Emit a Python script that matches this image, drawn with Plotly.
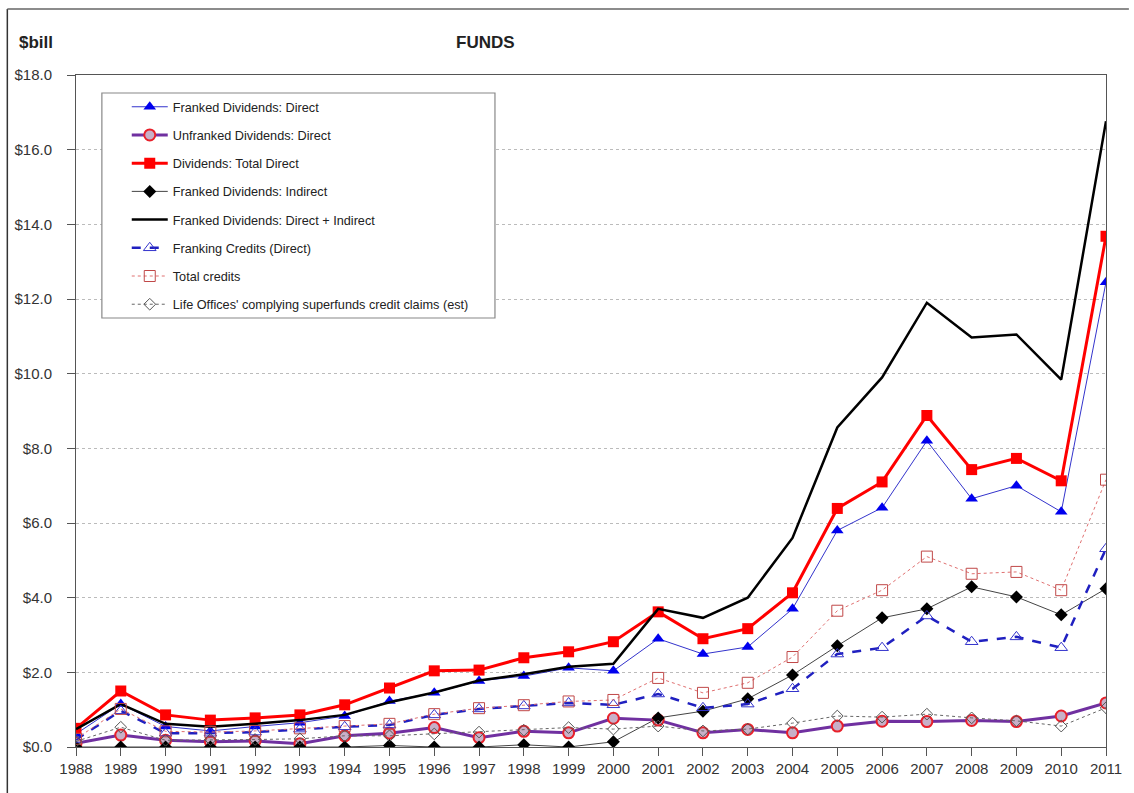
import plotly.graph_objects as go

years = list(range(1988, 2012))

franked_direct = [0.35, 1.15, 0.55, 0.43, 0.55, 0.65, 0.83, 1.23, 1.45, 1.77, 1.9, 2.12, 2.04,
                  2.9, 2.49, 2.68, 3.7, 5.8, 6.41, 8.2, 6.65, 7.0, 6.3, 12.45]
unfranked_direct = [0.1, 0.32, 0.18, 0.14, 0.16, 0.09, 0.3, 0.37, 0.52, 0.25, 0.42, 0.38, 0.77,
                    0.72, 0.38, 0.47, 0.38, 0.56, 0.69, 0.68, 0.71, 0.68, 0.83, 1.18]
total_direct = [0.5, 1.5, 0.86, 0.72, 0.78, 0.86, 1.13, 1.58, 2.04, 2.06, 2.39, 2.55, 2.82,
                3.62, 2.9, 3.17, 4.13, 6.39, 7.1, 8.88, 7.43, 7.73, 7.13, 13.68]
franked_indirect = [0.0, 0.0, 0.0, 0.0, 0.0, 0.0, 0.0, 0.04, 0.0, 0.0, 0.06, 0.0, 0.14,
                    0.78, 0.96, 1.29, 1.93, 2.71, 3.46, 3.7, 4.29, 4.02, 3.54, 4.24]
franked_total = [0.48, 1.15, 0.62, 0.54, 0.62, 0.72, 0.86, 1.2, 1.46, 1.78, 1.95, 2.15, 2.23,
                 3.7, 3.46, 4.0, 5.6, 8.56, 9.9, 11.9, 10.97, 11.05, 9.84, 16.76]
franking_credits = [0.2, 0.97, 0.37, 0.37, 0.4, 0.48, 0.54, 0.59, 0.86, 1.02, 1.1, 1.18, 1.13,
                    1.42, 1.05, 1.15, 1.56, 2.49, 2.66, 3.51, 2.82, 2.95, 2.66, 5.31]
total_credits = [0.22, 1.02, 0.42, 0.4, 0.43, 0.5, 0.56, 0.62, 0.88, 1.04, 1.12, 1.22, 1.26,
                 1.85, 1.45, 1.72, 2.41, 3.65, 4.2, 5.1, 4.64, 4.69, 4.2, 7.16]
life_offices = [0.15, 0.53, 0.18, 0.2, 0.2, 0.22, 0.3, 0.3, 0.35, 0.4, 0.45, 0.52, 0.48,
                0.56, 0.43, 0.48, 0.64, 0.83, 0.8, 0.88, 0.78, 0.7, 0.56, 1.05]

names = [
    "Franked Dividends: Direct",
    "Unfranked Dividends: Direct",
    "Dividends: Total Direct",
    "Franked Dividends: Indirect",
    "Franked Dividends: Direct + Indirect",
    "Franking Credits (Direct)",
    "Total credits",
    "Life Offices' complying superfunds credit claims (est)",
]

FONT = "Liberation Sans, Arial, sans-serif"

fig = go.Figure()

styles = [
    (franked_direct, dict(color="#3333cc", width=1), dict(symbol="triangle-up", size=11, color="#0000ee", line=dict(width=0))),
    (unfranked_direct, dict(color="#7030a0", width=3), dict(symbol="circle", size=11, color="#c8b0c8", line=dict(color="#e8202a", width=2))),
    (total_direct, dict(color="#ff0000", width=3), dict(symbol="square", size=11, color="#ff0000", line=dict(width=0))),
    (franked_indirect, dict(color="#444444", width=1), dict(symbol="diamond", size=10, color="#000000", line=dict(width=0))),
    (franked_total, dict(color="#000000", width=2.5), None),
    (franking_credits, dict(color="#2020c0", width=2.5, dash="dash"), dict(symbol="triangle-up-open", size=11, color="#3333cc", line=dict(width=1))),
    (total_credits, dict(color="#e07070", width=1, dash="dot"), dict(symbol="square-open", size=11, color="#c04848", line=dict(width=1))),
    (life_offices, dict(color="#666666", width=1, dash="dot"), dict(symbol="diamond-open", size=9, color="#555555", line=dict(width=1))),
]

for i, (vals, line, marker) in enumerate(styles):
    fig.add_trace(go.Scatter(
        x=years, y=vals, name=names[i],
        mode="lines+markers" if marker else "lines",
        line=line, marker=marker if marker else None,
        legendgroup=f"g{i}",
    ))

L, R, T, B = 76, 23, 75, 46
W, H = 1134, 793
pw = W - L - R
ph = H - T - B

def px_x(p):
    return (p - L) / pw

def px_y(p):
    return (H - B - p) / ph

fig.update_layout(
    width=W, height=H,
    margin=dict(l=L, r=R, t=T, b=B),
    paper_bgcolor="white", plot_bgcolor="white",
    font=dict(family=FONT, size=15, color="#333333"),
    showlegend=True,
    legend=dict(
        x=px_x(127), y=px_y(92), xanchor="left", yanchor="top",
        bgcolor="rgba(0,0,0,0)", borderwidth=0,
        font=dict(family=FONT, size=12.7, color="#222222"),
        tracegroupgap=8.7,
        itemwidth=36,
    ),
    xaxis=dict(
        range=[1988, 2011], tickmode="array", tickvals=years,
        ticktext=[str(y) for y in years],
        showgrid=False, zeroline=False,
        showline=True, linecolor="#555555", linewidth=1, mirror=True,
        ticks="outside", ticklen=8, tickcolor="#555555",
        tickfont=dict(family=FONT, size=15, color="#333333"),
    ),
    yaxis=dict(
        range=[0, 18], tickvals=[0, 2, 4, 6, 8, 10, 12, 14, 16, 18],
        ticktext=["$" + f"{v:.1f}" for v in [0, 2, 4, 6, 8, 10, 12, 14, 16, 18]],
        showgrid=True, gridcolor="#bbbbbb", griddash="3px,3px", gridwidth=1,
        zeroline=False,
        showline=True, linecolor="#555555", linewidth=1, mirror=True,
        ticks="outside", ticklen=8, tickcolor="#555555",
        ticklabelstandoff=12,
        tickfont=dict(family=FONT, size=15, color="#333333"),
    ),
    shapes=[
        dict(type="rect", xref="paper", yref="paper",
             x0=px_x(102), x1=px_x(497), y0=px_y(318), y1=px_y(93),
             line=dict(color="#888888", width=1.2), fillcolor="white", layer="above"),
        dict(type="line", xref="paper", yref="paper",
             x0=px_x(7), x1=px_x(7), y0=px_y(9), y1=px_y(793),
             line=dict(color="#333333", width=1.5)),
        dict(type="line", xref="paper", yref="paper",
             x0=px_x(7), x1=px_x(1134), y0=px_y(9), y1=px_y(9),
             line=dict(color="#666666", width=1.5)),
    ],
    annotations=[
        dict(text="<b>$bill</b>", xref="paper", yref="paper",
             x=px_x(17), y=px_y(42), xanchor="left", yanchor="middle",
             showarrow=False, font=dict(family=FONT, size=17, color="#222222")),
        dict(text="<b>FUNDS</b>", xref="paper", yref="paper",
             x=px_x(487), y=px_y(42), xanchor="center", yanchor="middle",
             showarrow=False, font=dict(family=FONT, size=17, color="#222222")),
    ],
)

fig.write_html("out.html")
